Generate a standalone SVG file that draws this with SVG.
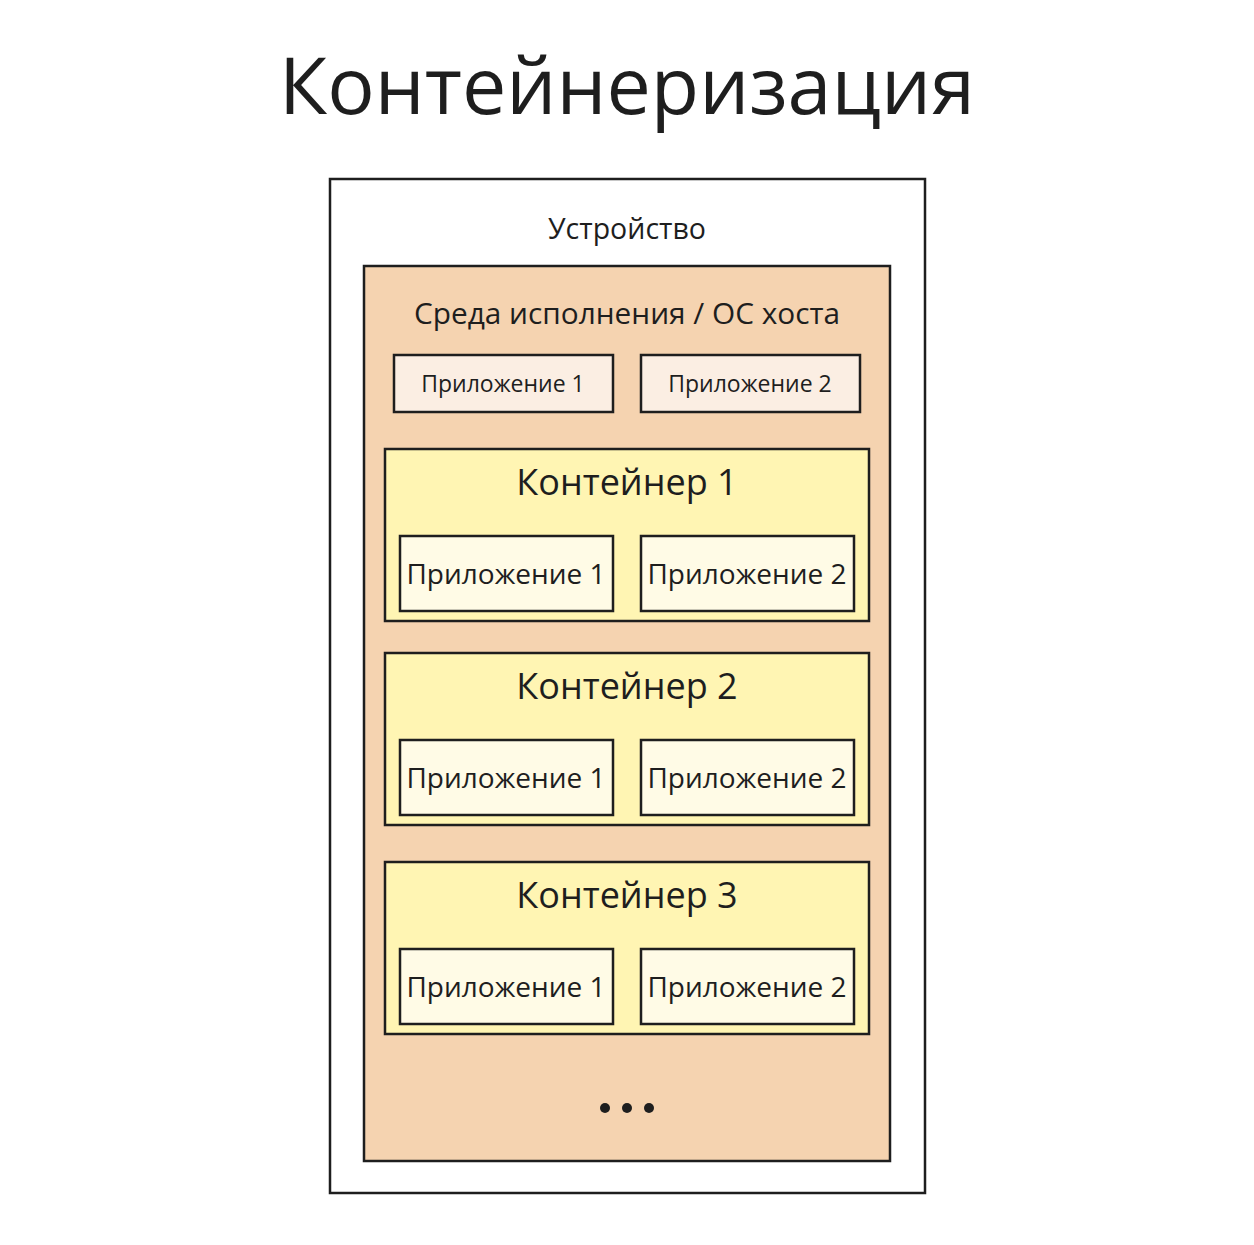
<svg xmlns="http://www.w3.org/2000/svg" width="1254" height="1245" viewBox="0 0 1254 1245">
<style>
text{font-family:"Open Sans","Noto Sans",sans-serif;fill:#1e1e1e;text-anchor:middle}
.b{stroke:#1e1e1e;stroke-width:2.5}
.c{fill:#fff5b3}.a{fill:#fffbe6}.s{fill:#fbeee3}
.t{font-size:36px}.l{font-size:28px}.m{font-size:23px}
</style>
<rect x="0" y="0" width="1254" height="1245" fill="#fff"/>
<text x="627" y="114" style="font-size:79px">Контейнеризация</text>
<g id="device"><rect class="b" x="330" y="179" width="595" height="1014" fill="#fff"/><text x="627" y="239" style="font-size:28.5px">Устройство</text></g>
<g id="runtime"><rect class="b" x="364" y="266" width="526" height="895" fill="#f5d3b0"/><text x="627" y="324" style="font-size:29.8px">Среда исполнения / ОС хоста</text></g>
<g id="hostapp1"><rect class="b s" x="394" y="355" width="219" height="57"/><text class="m" x="503" y="392">Приложение 1</text></g>
<g id="hostapp2"><rect class="b s" x="641" y="355" width="219" height="57"/><text class="m" x="750" y="392">Приложение 2</text></g>
<g id="container1"><rect class="b c" x="385" y="449" width="484" height="172"/><text class="t" x="627" y="495">Контейнер 1</text>
<rect class="b a" x="400" y="536" width="213" height="75"/><text class="l" x="506" y="584">Приложение 1</text>
<rect class="b a" x="641" y="536" width="213" height="75"/><text class="l" x="747" y="584">Приложение 2</text></g>
<g id="container2"><rect class="b c" x="385" y="653" width="484" height="172"/><text class="t" x="627" y="699">Контейнер 2</text>
<rect class="b a" x="400" y="740" width="213" height="75"/><text class="l" x="506" y="788">Приложение 1</text>
<rect class="b a" x="641" y="740" width="213" height="75"/><text class="l" x="747" y="788">Приложение 2</text></g>
<g id="container3"><rect class="b c" x="385" y="862" width="484" height="172"/><text class="t" x="627" y="908">Контейнер 3</text>
<rect class="b a" x="400" y="949" width="213" height="75"/><text class="l" x="506" y="997">Приложение 1</text>
<rect class="b a" x="641" y="949" width="213" height="75"/><text class="l" x="747" y="997">Приложение 2</text></g>
<g id="ellipsis" fill="#1e1e1e"><circle cx="605" cy="1108" r="5"/><circle cx="627" cy="1108" r="5"/><circle cx="649" cy="1108" r="5"/></g>
<g id="connectors"/>
</svg>
